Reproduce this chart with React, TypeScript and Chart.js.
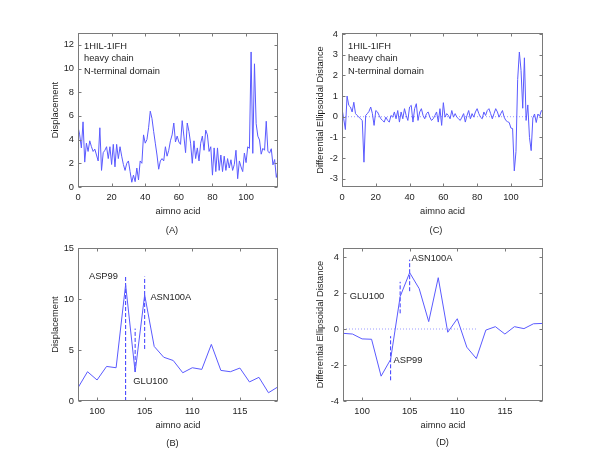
import React, { useEffect, useRef } from "react";
import { Chart, registerables } from "chart.js";

Chart.register(...registerables);

// ---------------- data ----------------
// Displacement, residues 0..119
const displacement: number[] = [
  5.1, 4.4, 3.3, 5.5, 2.1, 3.7, 3.0, 3.9, 3.4, 3.0,
  3.2, 2.7, 2.2, 5.0, 1.4, 2.9, 3.1, 3.4, 2.4, 3.4,
  1.9, 3.6, 1.7, 3.6, 2.4, 3.4, 2.6, 1.9, 1.4, 2.0,
  2.2, 1.3, 0.4, 1.0, 0.45, 1.6, 0.6, 2.2, 2.0, 4.4,
  3.7, 4.0, 5.0, 6.4, 5.8, 4.7, 3.7, 2.7, 1.5, 2.2,
  2.4, 2.2, 3.4, 2.6, 3.1, 3.9, 4.4, 5.4, 3.8, 4.3,
  3.8, 3.6, 5.6, 4.3, 2.9, 5.4, 4.7, 3.7, 2.0, 3.9,
  2.4, 3.3, 2.2, 3.7, 4.3, 3.1, 4.8, 4.4, 3.0, 3.4,
  1.0, 3.3, 1.3, 3.3, 1.4, 2.7, 1.3, 2.6, 1.4, 2.4,
  1.6, 2.3, 1.4, 1.9, 3.1, 0.7, 2.2, 1.7,
  1.3, 2.87, 2.06, 3.39, 3.26, 11.4, 2.84, 10.4, 5.35, 4.29,
  3.97, 2.77, 3.26, 3.1, 5.55, 3.0, 2.87, 3.23, 1.87, 2.32,
  0.81, 1.39,
];

// Differential ellipsoidal distance, residues 0..119
const ellipsoidal: number[] = [
  0.39, -0.1, -0.62, 1.0, 0.55, 0.47, 0.23, 0.7, 0.15, 0.06,
  -0.02, -0.1, -0.18, -2.2, 0.06, 0.15, 0.26, 0.47, 0.15, -0.42,
  0.3, 0.23, 0.06, -0.1, -0.18, -0.26, -0.02, -0.18, -0.26, 0.06,
  -0.02, 0.23, -0.1, 0.3, -0.26, 0.23, -0.1, 0.39, 0.06, -0.18,
  0.47, 0.55, -0.26, 0.39, 0.63, -0.18, 0.23, 0.39, 0.06, -0.1,
  0.15, 0.23, -0.02, -0.18, -0.1, 0.06, 0.23, -0.26, 0.39, -0.42,
  0.68, -0.02, 0.15, 0.06, -0.1, 0.3, -0.02, 0.15, -0.02, -0.1,
  -0.18, -0.02, 0.15, -0.26, 0.06, 0.3, -0.1, 0.15, -0.02, 0.23,
  0.39, 0.15, -0.02, -0.1, 0.23, 0.06, 0.3, 0.39, 0.15, -0.1,
  0.15, 0.39, 0.23, -0.02, 0.15, 0.3, -0.02, -0.18,
  -0.24, -0.28, -0.55, -0.57, -2.62, -1.69, 1.8, 3.13, 2.24, 0.41,
  2.85, -0.18, 0.57, -1.01, -1.64, -0.06, 0.13, -0.28, 0.13, 0.02,
  0.29, 0.31,
];

const firstResidue = 0;
const zoomStart = 98;
const zoomEnd = 119;

const xTicksFull = [0, 20, 40, 60, 80, 100];
const xTicksZoom = [100, 105, 110, 115];
const yTicksA = [0, 2, 4, 6, 8, 10, 12];
const yTicksB = [0, 5, 10, 15];
const yTicksC = [-3, -2, -1, 0, 1, 2, 3, 4];
const yTicksD = [-4, -2, 0, 2, 4];

const headerLines = ["1HIL-1IFH", "heavy chain", "N-terminal domain"];

// marked residues
const markerX = [103, 104, 105];
const markerFromB = [0, 2.85, 5.1];
const markerToB = [12.2, 7.1, 12.2];
const markerFromD = [-2.85, 0.87, 2.1];
const markerToD = [-0.4, 2.62, 3.85];

const markerNames = ["ASP99", "GLU100", "ASN100A"];
const labelXB = [99.15, 103.8, 105.6];
const labelYB = [12.25, 1.96, 10.2];
const labelXD = [103.3, 98.7, 105.2];
const labelYD = [-1.72, 1.8, 3.93];

const zeroLineC = [0, 119];
const zeroLineD = [98, 112];

// ---------------- style ----------------
const FONT = '"Liberation Sans", Arial, Helvetica, sans-serif';
const FS = 9.3;
const LH = FS * 1.2;
const TEXT = "#1e1e1e";
const FRAME = "#7a7a7a";
const LINE = "#5a5aff";
const MARK = "#3a3aff";
const ZERO = "#9b9bff";

type Area = { left: number; top: number; right: number; bottom: number };
type Note = { text: string; x: number; y: number };

type Panel = {
  area: Area;
  yTitleX: number;
  xTitleY: number;
  xMin: number;
  xMax: number;
  yMin: number;
  yMax: number;
  xTicks: number[];
  yTicks: number[];
  yTitle: string;
  datasets: any[];
  notes: Note[];
  header: boolean;
  label: { text: string; x: number; y: number };
};

function series(values: number[], start: number, from: number, to: number) {
  const pts: { x: number; y: number }[] = [];
  values.forEach((v, i) => {
    const x = start + i;
    if (x >= from && x <= to) pts.push({ x, y: v });
  });
  return pts;
}

function mainLine(data: { x: number; y: number }[]) {
  return {
    data,
    borderColor: LINE,
    borderWidth: 1,
    pointRadius: 0,
    tension: 0,
    fill: false,
  };
}

function zeroLine(xs: number[]) {
  return {
    data: xs.map((x) => ({ x, y: 0 })),
    borderColor: ZERO,
    borderWidth: 1,
    borderDash: [1, 2],
    pointRadius: 0,
    fill: false,
  };
}

function markerLines(from: number[], to: number[]) {
  return markerX.map((x, i) => ({
    data: [
      { x, y: from[i] },
      { x, y: to[i] },
    ],
    borderColor: MARK,
    borderWidth: 1,
    borderDash: [4, 2],
    pointRadius: 0,
    fill: false,
  }));
}

const decorPlugin = {
  id: "decor",
  afterDraw(chart: any, _args: any, opts: any) {
    const p: Panel = opts.panel;
    const { ctx, chartArea } = chart;
    const xs = chart.scales.x;
    const ys = chart.scales.y;
    const l = Math.round(chartArea.left) + 0.5;
    const r = Math.round(chartArea.right) - 0.5;
    const t = Math.round(chartArea.top) + 0.5;
    const b = Math.round(chartArea.bottom) - 0.5;
    ctx.save();
    ctx.strokeStyle = FRAME;
    ctx.lineWidth = 1;
    ctx.strokeRect(l, t, r - l, b - t);
    const tl = 3;
    ctx.beginPath();
    p.xTicks.forEach((v) => {
      const px = Math.round(xs.getPixelForValue(v)) + 0.5;
      ctx.moveTo(px, b);
      ctx.lineTo(px, b - tl);
      ctx.moveTo(px, t);
      ctx.lineTo(px, t + tl);
    });
    p.yTicks.forEach((v) => {
      const py = Math.round(ys.getPixelForValue(v)) + 0.5;
      ctx.moveTo(l, py);
      ctx.lineTo(l + tl, py);
      ctx.moveTo(r, py);
      ctx.lineTo(r - tl, py);
    });
    ctx.stroke();

    ctx.fillStyle = TEXT;
    ctx.font = `${FS}px ${FONT}`;
    ctx.textBaseline = "middle";
    ctx.textAlign = "left";
    if (p.header) {
      headerLines.forEach((s, i) => {
        ctx.fillText(s, chartArea.left + 6, chartArea.top + 13 + i * 12.8);
      });
    }
    p.notes.forEach((n) => {
      ctx.fillText(n.text, xs.getPixelForValue(n.x), ys.getPixelForValue(n.y));
    });
    ctx.textAlign = "center";
    ctx.fillText(p.label.text, p.label.x, p.label.y);
    ctx.restore();
  },
};

function makeConfig(p: Panel): any {
  const padLeft = p.yTitleX - LH / 2;
  const yWidth = p.area.left - padLeft;
  const xHeight = p.xTitleY + LH / 2 - p.area.bottom;
  const padBottom = 450 - p.area.bottom - xHeight;
  const tickFont = { family: FONT, size: FS };
  return {
    type: "line",
    data: { datasets: p.datasets },
    options: {
      animation: false,
      responsive: false,
      devicePixelRatio: 1,
      layout: {
        padding: { left: padLeft, top: p.area.top, right: 600 - p.area.right, bottom: padBottom },
      },
      plugins: {
        legend: { display: false },
        tooltip: { enabled: false },
        decor: { panel: p },
      },
      scales: {
        x: {
          type: "linear",
          min: p.xMin,
          max: p.xMax,
          grid: { display: false, drawTicks: false },
          border: { display: false },
          afterBuildTicks: (s: any) => {
            s.ticks = p.xTicks.map((v) => ({ value: v }));
          },
          afterFit: (s: any) => {
            s.height = xHeight;
          },
          ticks: { font: tickFont, color: TEXT, padding: 5, maxRotation: 0, autoSkip: false },
          title: { display: true, text: "aimno acid", font: tickFont, color: TEXT, padding: 0 },
        },
        y: {
          type: "linear",
          min: p.yMin,
          max: p.yMax,
          grid: { display: false, drawTicks: false },
          border: { display: false },
          afterBuildTicks: (s: any) => {
            s.ticks = p.yTicks.map((v) => ({ value: v }));
          },
          afterFit: (s: any) => {
            s.width = yWidth;
          },
          ticks: { font: tickFont, color: TEXT, padding: 4, autoSkip: false },
          title: { display: true, text: p.yTitle, font: tickFont, color: TEXT, padding: 0 },
        },
      },
    },
    plugins: [decorPlugin],
  };
}

const panels: Panel[] = [
  {
    area: { left: 78, top: 33, right: 278, bottom: 187 },
    yTitleX: 55,
    xTitleY: 211.7,
    xMin: 0,
    xMax: 119,
    yMin: 0,
    yMax: 13,
    xTicks: xTicksFull,
    yTicks: yTicksA,
    yTitle: "Displacement",
    datasets: [mainLine(series(displacement, firstResidue, 0, 119))],
    notes: [],
    header: true,
    label: { text: "(A)", x: 172, y: 230 },
  },
  {
    area: { left: 78, top: 248, right: 278, bottom: 401 },
    yTitleX: 55,
    xTitleY: 425,
    xMin: zoomStart,
    xMax: zoomEnd,
    yMin: 0,
    yMax: 15,
    xTicks: xTicksZoom,
    yTicks: yTicksB,
    yTitle: "Displacement",
    datasets: [
      mainLine(series(displacement, firstResidue, zoomStart, zoomEnd)),
      ...markerLines(markerFromB, markerToB),
    ],
    notes: markerNames.map((t, i) => ({ text: t, x: labelXB[i], y: labelYB[i] })),
    header: false,
    label: { text: "(B)", x: 172.5, y: 443 },
  },
  {
    area: { left: 342, top: 33, right: 543, bottom: 187 },
    yTitleX: 320.7,
    xTitleY: 211.7,
    xMin: 0,
    xMax: 119,
    yMin: -3.4,
    yMax: 4.05,
    xTicks: xTicksFull,
    yTicks: yTicksC,
    yTitle: "Differential Ellipsoidal Distance",
    datasets: [mainLine(series(ellipsoidal, firstResidue, 0, 119)), zeroLine(zeroLineC)],
    notes: [],
    header: true,
    label: { text: "(C)", x: 436, y: 230 },
  },
  {
    area: { left: 343, top: 248, right: 543, bottom: 401 },
    yTitleX: 320.7,
    xTitleY: 425,
    xMin: zoomStart,
    xMax: zoomEnd,
    yMin: -4,
    yMax: 4.5,
    xTicks: xTicksZoom,
    yTicks: yTicksD,
    yTitle: "Differential Ellipsoidal Distance",
    datasets: [
      mainLine(series(ellipsoidal, firstResidue, zoomStart, zoomEnd)),
      zeroLine(zeroLineD),
      ...markerLines(markerFromD, markerToD),
    ],
    notes: markerNames.map((t, i) => ({ text: t, x: labelXD[i], y: labelYD[i] })),
    header: false,
    label: { text: "(D)", x: 442.5, y: 442 },
  },
];

function PanelCanvas({ panel }: { panel: Panel }) {
  const ref = useRef<HTMLCanvasElement | null>(null);
  useEffect(() => {
    if (!ref.current) return;
    const chart = new Chart(ref.current, makeConfig(panel));
    return () => chart.destroy();
  }, [panel]);
  return (
    <canvas
      ref={ref}
      width={600}
      height={450}
      style={{ position: "absolute", left: 0, top: 0, width: 600, height: 450 }}
    />
  );
}

export default function App() {
  return (
    <div
      style={{
        position: "absolute",
        left: 0,
        top: 0,
        width: 600,
        height: 450,
        background: "#ffffff",
      }}
    >
      {panels.map((p, i) => (
        <PanelCanvas key={i} panel={p} />
      ))}
    </div>
  );
}
